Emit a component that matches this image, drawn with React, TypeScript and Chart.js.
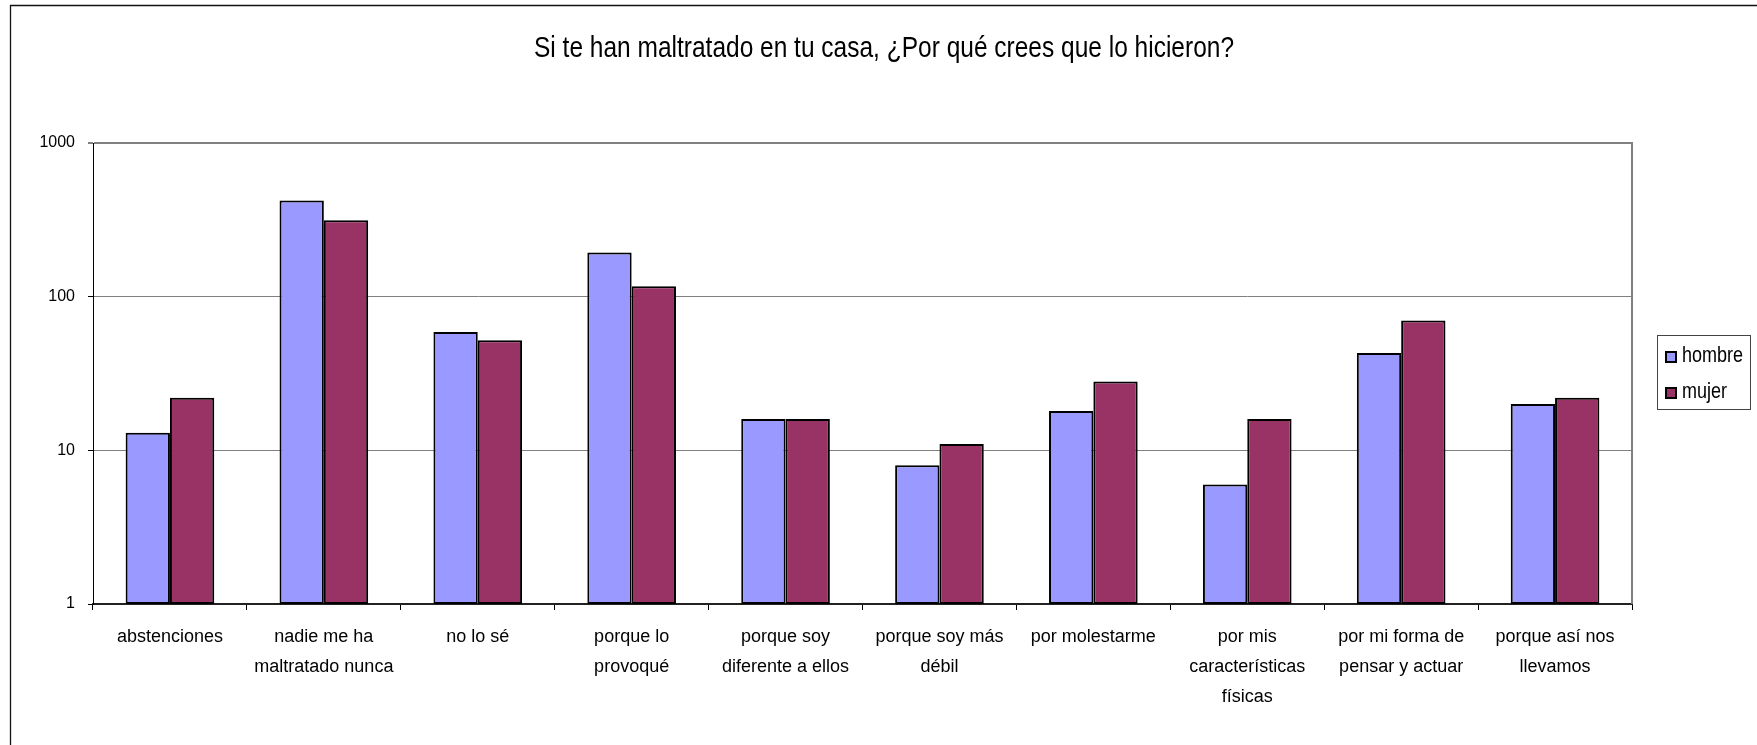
import React, { useEffect, useRef } from "react";
import { Chart, registerables } from "chart.js";

Chart.register(...registerables);

const TITLE = "Si te han maltratado en tu casa, ¿Por qué crees que lo hicieron?";

const categories: (string | string[])[] = [
  "abstenciones",
  ["nadie me ha", "maltratado nunca"],
  "no lo sé",
  ["porque lo", "provoqué"],
  ["porque soy", "diferente a ellos"],
  ["porque soy más", "débil"],
  "por molestarme",
  ["por mis", "características", "físicas"],
  ["por mi forma de", "pensar y actuar"],
  ["porque así nos", "llevamos"],
];

const hombre = [13, 423, 59, 194, 16, 8, 18, 6, 43, 20];
const mujer = [22, 314, 52, 117, 16, 11, 28, 16, 70, 22];

const seriesNames = ["hombre", "mujer"];
const seriesColors = ["#9999FF", "#993366"];

const yTicks = [1, 10, 100, 1000];

const W = 1757;
const H = 745;
const FONT = "'Liberation Sans', Arial, sans-serif";
const STRETCH = 1.2;

const decor = {
  id: "decor",
  beforeDraw(chart: any) {
    const ctx = chart.ctx;
    ctx.save();
    ctx.fillStyle = "#fff";
    ctx.fillRect(0, 0, W, H);
    ctx.strokeStyle = "#111";
    ctx.lineWidth = 1.3;
    ctx.beginPath();
    ctx.moveTo(10.5, H);
    ctx.lineTo(10.5, 5.5);
    ctx.lineTo(W, 5.5);
    ctx.stroke();
    ctx.restore();
  },
  afterDraw(chart: any) {
    const ctx = chart.ctx;
    const a = chart.chartArea;
    ctx.save();
    // right border of plot area
    ctx.strokeStyle = "#808080";
    ctx.lineWidth = 2;
    ctx.beginPath();
    ctx.moveTo(a.right, a.top - 1);
    ctx.lineTo(a.right, a.bottom);
    ctx.stroke();

    // title
    ctx.save();
    ctx.translate(884, 57);
    ctx.scale(1, STRETCH);
    ctx.fillStyle = "#000";
    ctx.font = `24.5px ${FONT}`;
    ctx.textAlign = "center";
    ctx.textBaseline = "alphabetic";
    ctx.fillText(TITLE, 0, 0);
    ctx.restore();

    // legend
    ctx.strokeStyle = "#444";
    ctx.lineWidth = 1;
    ctx.strokeRect(1657.5, 335.5, 93, 74);
    chart.data.datasets.forEach((ds: any, i: number) => {
      const cy = 357 + i * 36;
      ctx.fillStyle = ds.backgroundColor;
      ctx.fillRect(1666, cy - 5, 10, 10);
      ctx.strokeStyle = "#000";
      ctx.lineWidth = 2;
      ctx.strokeRect(1666, cy - 5, 10, 10);
      ctx.save();
      ctx.translate(1682, cy + 5);
      ctx.scale(1, STRETCH);
      ctx.fillStyle = "#000";
      ctx.font = `18px ${FONT}`;
      ctx.textAlign = "left";
      ctx.textBaseline = "alphabetic";
      ctx.fillText(ds.label, 0, 0);
      ctx.restore();
    });
    ctx.restore();
  },
};

export default function App() {
  const ref = useRef<HTMLCanvasElement | null>(null);

  useEffect(() => {
    document.body.style.margin = "0";
    const canvas = ref.current;
    if (!canvas) return;
    const chart = new Chart(canvas, {
      type: "bar",
      data: {
        labels: categories,
        datasets: [hombre, mujer].map((vals, i) => ({
          label: seriesNames[i],
          data: vals,
          backgroundColor: seriesColors[i],
          borderColor: "#000",
          borderWidth: 2,
          borderSkipped: false,
          categoryPercentage: 0.576,
          barPercentage: 1,
        })),
      },
      options: {
        animation: false,
        responsive: false,
        devicePixelRatio: 1,
        layout: { padding: { top: 143, right: 125, left: 0, bottom: 0 } },
        plugins: {
          legend: { display: false },
          title: { display: false },
          tooltip: { enabled: false },
        },
        scales: {
          x: {
            afterFit(scale: any) {
              scale.height = 141;
            },
            grid: {
              drawOnChartArea: false,
              drawTicks: true,
              tickLength: 6,
              tickColor: "#000",
              offset: true,
            },
            border: { color: "#222", width: 2 },
            ticks: {
              autoSkip: false,
              maxRotation: 0,
              minRotation: 0,
              padding: 12,
              color: "#000",
              font: { family: FONT, size: 18, lineHeight: 30 / 18 },
            },
          },
          y: {
            type: "logarithmic",
            min: 1,
            max: 1000,
            afterFit(scale: any) {
              scale.width = 93;
            },
            afterBuildTicks(scale: any) {
              scale.ticks = yTicks.map((v) => ({ value: v }));
            },
            ticks: {
              callback: (v: any) => String(v),
              color: "#000",
              padding: 13,
              font: { family: FONT, size: 16 },
            },
            grid: {
              color: (c: any) =>
                c.tick && c.tick.value === 1 ? "rgba(0,0,0,0)" : "#808080",
              lineWidth: (c: any) => (c.tick && c.tick.value === 1000 ? 2 : 1),
              tickColor: "#000",
              tickLength: 5,
              tickWidth: 1,
            },
            border: { color: "#000", width: 1 },
          },
        },
      },
      plugins: [decor],
    } as any);
    return () => chart.destroy();
  }, []);

  return (
    <div style={{ width: W, height: H }}>
      <canvas ref={ref} width={W} height={H} style={{ display: "block" }} />
    </div>
  );
}
